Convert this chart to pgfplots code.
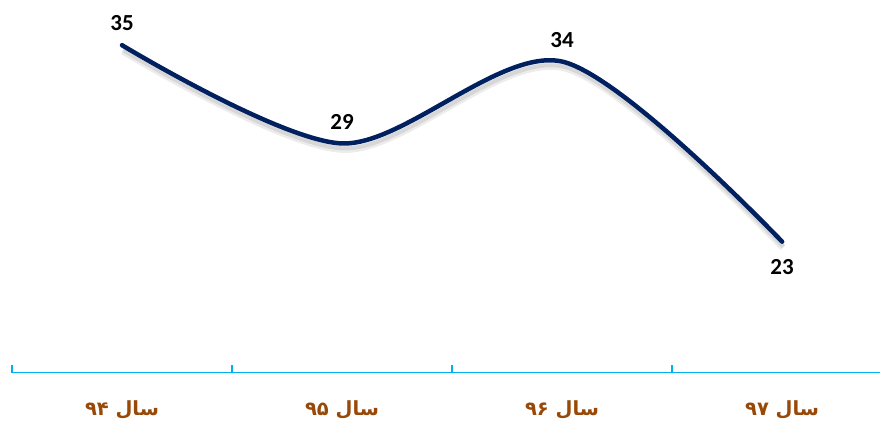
\documentclass[border=0pt]{standalone}
\usepackage{fontspec}
\setmainfont{Carlito}
\newfontfamily\arabicfont[Script=Arabic]{DejaVu Sans}
\TeXXeTstate=1
\usepackage{pgfplots}
\pgfplotsset{compat=1.18}
\definecolor{linenavy}{RGB}{0,32,96}
\definecolor{axisblue}{RGB}{0,176,240}
\definecolor{labelbrown}{RGB}{152,72,7}

\begin{document}
\begin{tikzpicture}
\begin{axis}[
  scale only axis, width=869pt, height=373pt,
  xmin=-0.5, xmax=3.446, ymin=15, ymax=37.76,
  axis x line*=bottom, axis y line=none,
  axis line style={axisblue, line width=1.5pt},
  xtick={0,1,2,3},
  xticklabels={
    {\beginR سال \beginL ۹۴\endL\endR},
    {\beginR سال \beginL ۹۵\endL\endR},
    {\beginR سال \beginL ۹۶\endL\endR},
    {\beginR سال \beginL ۹۷\endL\endR}},
  major tick length=0pt,
  minor xtick={-0.5,0.5,1.5,2.5},
  minor tick length=8pt,
  tick align=inside,
  minor tick style={axisblue, line width=1.5pt},
  x tick label style={font=\arabicfont\bfseries\fontsize{19.5}{22}\selectfont, text=labelbrown, yshift=-25pt},
  clip=false,
]
% soft shadow under the line
\addplot[gray, opacity=0.15, line width=7pt, smooth, shift={(1pt,-6pt)}] coordinates {(0,35) (1,29) (2,34) (3,23)};
\addplot[gray, opacity=0.2, line width=4pt, smooth, shift={(1pt,-5pt)}] coordinates {(0,35) (1,29) (2,34) (3,23)};
\addplot[linenavy, line width=4.5pt, smooth, line cap=round] coordinates {(0,35) (1,29) (2,34) (3,23)};
% value labels
\addplot[draw=none, nodes near coords, point meta=explicit symbolic,
  every node near coord/.style={font=\bfseries\fontsize{23}{26}\selectfont, black, anchor=south, inner sep=0pt, yshift=14pt}]
  coordinates {(0,35)[35] (1,29)[29] (2,34)[34]};
\addplot[draw=none, nodes near coords, point meta=explicit symbolic,
  every node near coord/.style={font=\bfseries\fontsize{23}{26}\selectfont, black, anchor=north, inner sep=0pt, yshift=-18pt}]
  coordinates {(3,23)[23]};
\end{axis}
\path (current axis.south west) ++(-12pt,-52pt) rectangle (current axis.north east);
\end{tikzpicture}
\end{document}
